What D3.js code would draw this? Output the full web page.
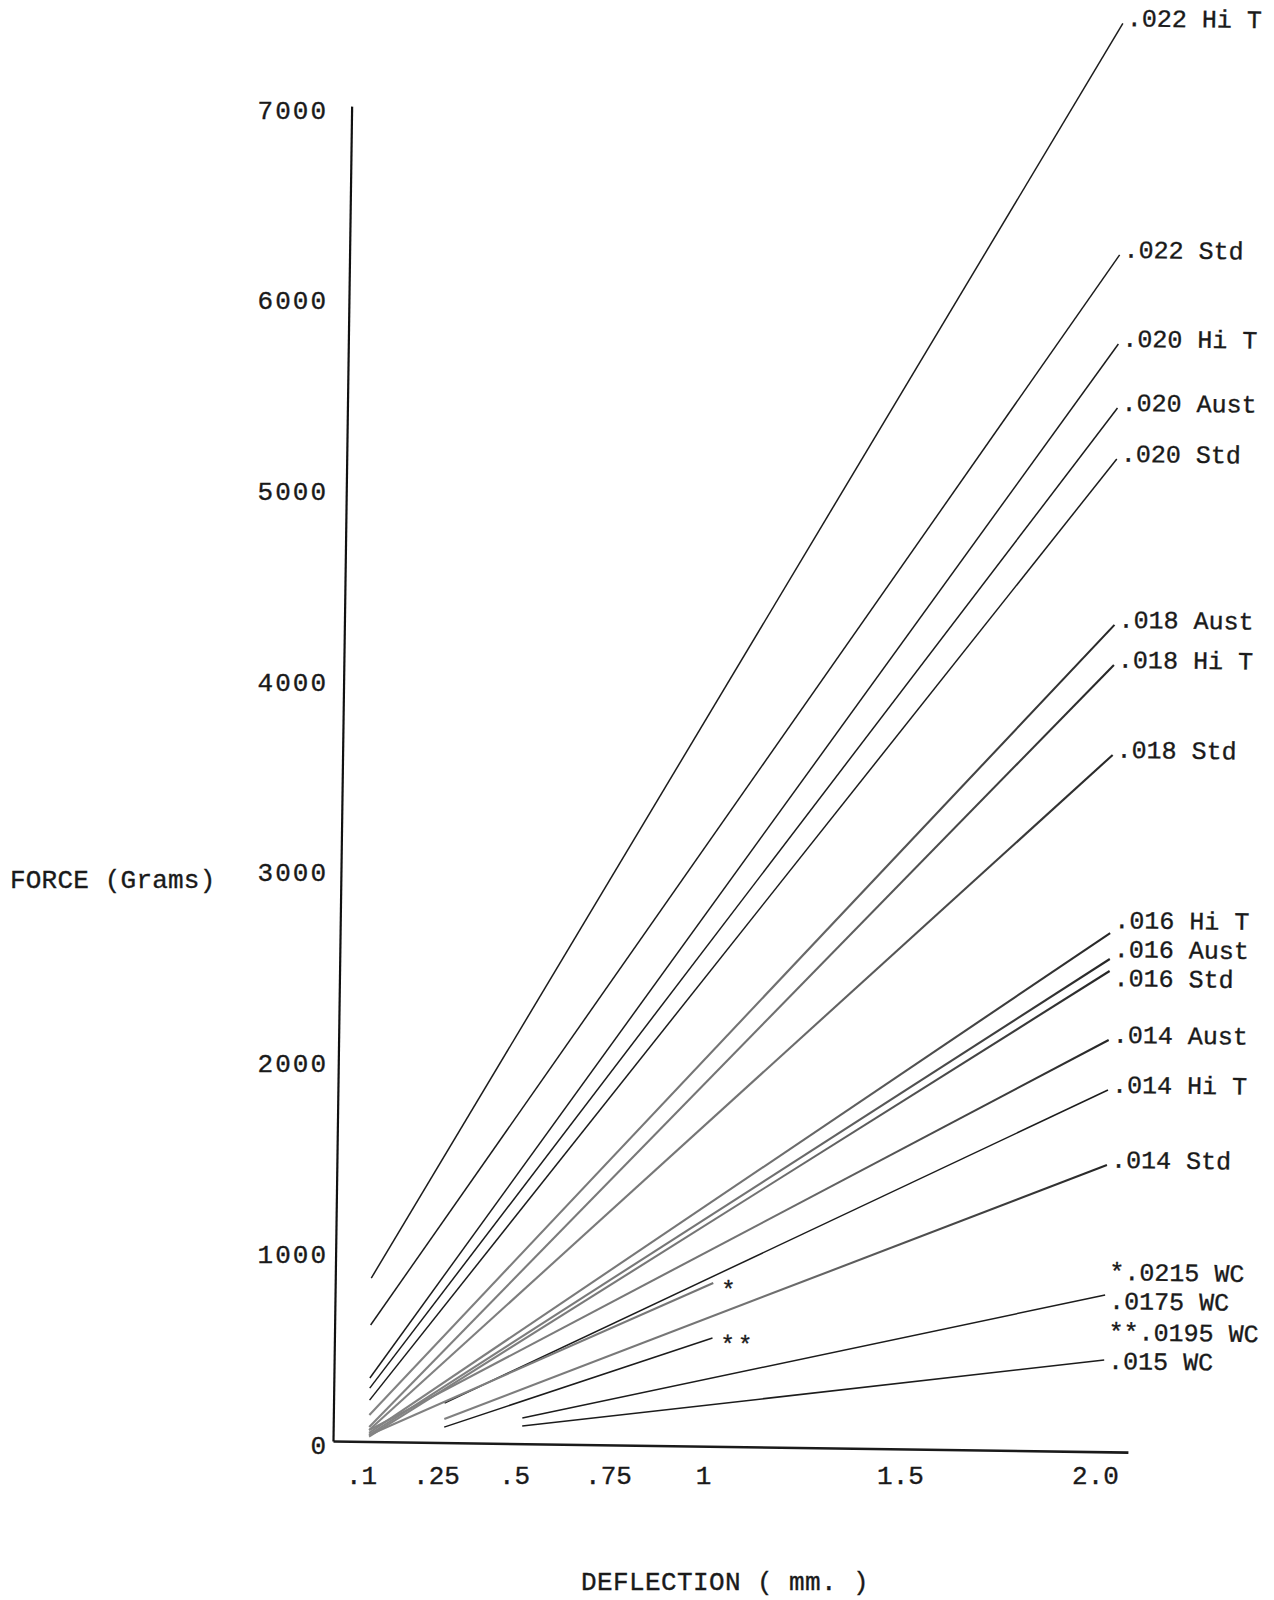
<!DOCTYPE html>
<html>
<head>
<meta charset="utf-8">
<title>Force vs deflection</title>
<script src="https://d3js.org/d3.v7.min.js"></script>
<style>
  body { margin: 0; background: #fff; }
  svg text { font-family: "Liberation Mono", "DejaVu Sans Mono", monospace; fill: #1a1a1a; stroke: #1a1a1a; stroke-width: 0.35; }
</style>
</head>
<body>
<div id="chart"></div>
<script>
// ---- data ----
const seriesNames = [".022 Hi T", ".022 Std", ".020 Hi T", ".020 Aust", ".020 Std",
  ".018 Aust", ".018 Hi T", ".018 Std", ".016 Hi T", ".016 Aust", ".016 Std",
  ".014 Aust", ".014 Hi T", ".014 Std", "*.0215 WC", ".0175 WC", "**.0195 WC", ".015 WC"];
const startDefl  = [0.1, 0.1, 0.1, 0.1, 0.1, 0.1, 0.1, 0.1, 0.1, 0.1, 0.1, 0.1, 0.25, 0.25, 0.1, 0.5, 0.25, 0.5];
const startForce = [857, 611, 333, 280, 217, 139, 76, 60, 45, 35, 25, 60, 207, 123, 34, 134, 81, 92];
const endDefl    = [2, 2, 2, 2, 2, 2, 2, 2, 2, 2, 2, 2, 2, 2, 1, 2, 1, 2];
const endForce   = [7490, 6276, 5809, 5473, 5206, 4336, 4126, 3654, 2720, 2584, 2521, 2159, 1897, 1504, 856, 822, 568, 481];
const endMarks   = ["", "", "", "", "", "", "", "", "", "", "", "", "", "", "*", "", "**", ""];

const xTicks = [0.1, 0.25, 0.5, 0.75, 1, 1.5, 2.0];
const xTickLabels = [".1", ".25", ".5", ".75", "1", "1.5", "2.0"];
const yTicks = [0, 1000, 2000, 3000, 4000, 5000, 6000, 7000];

// lines drawn in soft pencil (grey towards the origin)
const pencilLines = [".018 Aust", ".018 Hi T", ".018 Std", ".016 Hi T", ".016 Aust",
  ".016 Std", ".014 Aust", ".014 Std", "*.0215 WC"];

// ---- layout ----
const W = 1274, H = 1600;
const origin = {x: 333, y: 1441};
const tilt = 0.8; // the sheet is slightly skewed
const labelGap = 29;

// hand-ruled deflection axis, not evenly spaced
const x = d3.scaleLinear()
  .domain([0, 0.1, 0.25, 0.5, 0.75, 1, 1.5, 2.0, 2.065])
  .range([0, 36, 111, 189, 283, 378, 575, 770, 795]);
const y = d3.scaleLinear().domain([0, 7000]).range([0, -1335]);

const svg = d3.select("#chart").append("svg")
  .attr("width", W).attr("height", H);

svg.append("rect").attr("width", W).attr("height", H).attr("fill", "#fff");

const grad = svg.append("defs").append("linearGradient")
  .attr("id", "pencil").attr("gradientUnits", "userSpaceOnUse")
  .attr("x1", 0).attr("y1", 0).attr("x2", 770).attr("y2", 0);
grad.append("stop").attr("offset", 0).attr("stop-color", "#858585");
grad.append("stop").attr("offset", 0.55).attr("stop-color", "#727272");
grad.append("stop").attr("offset", 1).attr("stop-color", "#262626");

// ruled part (rotated with the sheet)
const plot = svg.append("g")
  .attr("transform", "translate(" + origin.x + "," + origin.y + ") rotate(" + tilt + ")");

// axes lines
const xAxisLine = plot.append("g")
  .call(d3.axisBottom(x).tickValues([]).tickSizeOuter(0));
xAxisLine.select(".domain").attr("stroke", "#1a1a1a").attr("stroke-width", 2.6);

const yAxisLine = plot.append("g")
  .call(d3.axisLeft(y).tickValues([]).tickSizeOuter(0));
yAxisLine.select(".domain").attr("stroke", "#111").attr("stroke-width", 2.2);

// series
const series = seriesNames.map(function(name, i) {
  return {name: name, pts: [[startDefl[i], startForce[i]], [endDefl[i], endForce[i]]], mark: endMarks[i]};
});

const line = d3.line()
  .x(function(d) { return x(d[0]); })
  .y(function(d) { return y(d[1]); });

plot.selectAll(".series")
  .data(series)
  .enter().append("path")
  .attr("class", "series")
  .attr("fill", "none")
  .attr("stroke", function(d) { return pencilLines.includes(d.name) ? "url(#pencil)" : "#1c1c1c"; })
  .attr("stroke-width", function(d) { return pencilLines.includes(d.name) ? 2.1 : 1.5; })
  .attr("d", function(d) { return line(d.pts); });

// star marks at the ends of the short lines
plot.selectAll(".mark")
  .data(series.filter(function(d) { return d.mark; }))
  .enter().append("text")
  .attr("class", "mark")
  .attr("x", function(d) { return x(d.pts[1][0]) + 8; })
  .attr("y", function(d) { return y(d.pts[1][1]) + 14; })
  .attr("font-size", 24)
  .attr("letter-spacing", 3)
  .text(function(d) { return d.mark; });

// right-hand labels, nudged apart where they crowd
const labels = series.map(function(d, i) {
  return {name: d.name, y: y(endForce[i]) - 6};
}).sort(function(a, b) { return a.y - b.y; });
for (let k = 0; k < 80; k++) {
  for (let i = 1; i < labels.length; i++) {
    const gap = labels[i].y - labels[i - 1].y;
    if (gap < labelGap) {
      const d = (labelGap - gap) / 2;
      labels[i - 1].y -= d;
      labels[i].y += d;
    }
  }
}
plot.selectAll(".lab")
  .data(labels)
  .enter().append("text")
  .attr("class", "lab")
  .attr("x", x(2.0) + 4)
  .attr("y", function(d) { return d.y; })
  .attr("dy", "0.35em")
  .attr("font-size", 25)
  .text(function(d) { return d.name; });

// typed tick labels (straight on the page)
const typed = svg.append("g")
  .attr("transform", "translate(" + origin.x + "," + origin.y + ")");

const xLab = typed.append("g")
  .call(d3.axisBottom(x).tickValues(xTicks).tickSize(0)
    .tickFormat(function(d, i) { return xTickLabels[i]; }));
xLab.select(".domain").remove();
xLab.selectAll("text")
  .attr("y", 34).attr("dy", "0.35em").attr("dx", -8)
  .attr("font-size", 26)
  .attr("font-family", "Liberation Mono")
  .attr("fill", "#1a1a1a");

const yLab = typed.append("g")
  .call(d3.axisLeft(y).tickValues(yTicks).tickSize(0).tickFormat(d3.format("d")));
yLab.select(".domain").remove();
yLab.selectAll("text")
  .attr("x", -5).attr("y", 3).attr("dy", "0.35em")
  .attr("font-size", 26)
  .attr("letter-spacing", 2)
  .attr("font-family", "DejaVu Sans Mono")
  .attr("fill", "#1a1a1a");

// axis titles
svg.append("text")
  .attr("x", 10).attr("y", 879).attr("dy", "0.35em")
  .attr("font-size", 26).attr("letter-spacing", 0.2)
  .text("FORCE (Grams)");

svg.append("text")
  .attr("x", 581).attr("y", 1581).attr("dy", "0.35em")
  .attr("font-size", 26).attr("letter-spacing", 0.4)
  .text("DEFLECTION ( mm. )");
</script>
</body>
</html>
